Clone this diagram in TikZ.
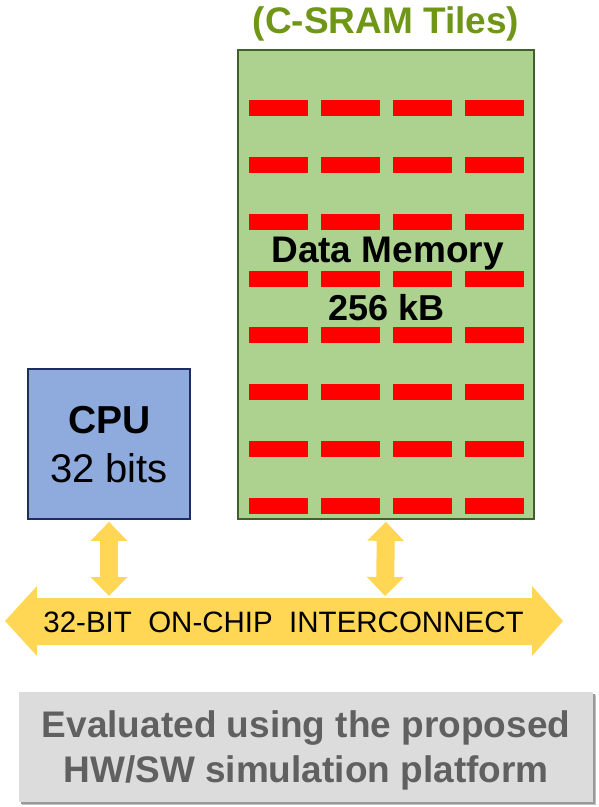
\documentclass[tikz,border=0pt]{standalone}
\usepackage{fontspec}
\setmainfont{Liberation Sans}
\usetikzlibrary{arrows.meta}
\definecolor{memgreen}{RGB}{173,210,143}
\definecolor{memedge}{RGB}{66,96,44}
\definecolor{titlegreen}{RGB}{112,150,24}
\definecolor{tilered}{RGB}{255,0,0}
\definecolor{cpublue}{RGB}{143,170,220}
\definecolor{cpuedge}{RGB}{28,46,100}
\definecolor{busyellow}{RGB}{255,215,85}
\definecolor{notegray}{RGB}{220,220,220}
\definecolor{notetext}{RGB}{96,96,96}

\begin{document}
\begin{tikzpicture}[x=1pt, y=-1pt]
\tikzset{box/.style = {draw, line width=1.8pt, inner sep=0pt}}
    \tikzset{tile/.style = {fill=tilered}}
    \tikzset{link/.style = {draw=busyellow, line width=18pt,
      {Triangle[length=19pt, width=37pt, line width=0pt]}-{Triangle[length=19pt, width=37pt, line width=0pt]}}}
    \tikzset{big/.style = {font=\fontsize{36}{40}\selectfont, inner sep=0pt, anchor=base}}
\useasboundingbox (0,0) rectangle (598,807);

% Memory block with its tiles
\node[titlegreen, big, font=\fontsize{37}{40}\selectfont\bfseries] (title) at (386,33) {(C-SRAM Tiles)};
\node[box, draw=memedge, fill=memgreen, minimum width=296pt, minimum height=469pt] (mem) at (386,284.5) {};
\foreach \row in {0,...,7}
  \foreach \col in {0,...,3}
    \fill[tile] (249+72*\col, 100+56.86*\row) rectangle ++(59,16);
\node[big, font=\fontsize{37}{40}\selectfont\bfseries] (memname) at (387.5,262) {Data Memory};
\node[big, font=\fontsize{36}{40}\selectfont\bfseries] (memsize) at (387,320) {256 kB};

% CPU
\node[box, draw=cpuedge, fill=cpublue, minimum width=162pt, minimum height=150pt] (cpu) at (109,444) {};
\node[big, font=\fontsize{39}{40}\selectfont\bfseries] (cpuname) at (109.5,433) {CPU};
\node[big, font=\fontsize{40}{40}\selectfont] (cpubits) at (109,482) {32 bits};

% Interconnect
\fill[busyellow] (5,621) -- (37,586) -- (37,598) -- (532,598) -- (532,586) -- (563,621)
  -- (532,656) -- (532,645) -- (37,645) -- (37,656) -- cycle;
\node[big, font=\fontsize{29.5}{30}\selectfont] (bus) at (283.5,632) {32-BIT\ \ ON-CHIP\ \ INTERCONNECT};
\coordinate (cpubus) at (109,596);
\coordinate (membus) at (385,596);
\draw[link] ([yshift=-2pt]cpu.south) -- (cpubus);
\draw[link] ([yshift=-2pt]mem.south) -- (membus);

% Note
\fill[black!25] (22,695) rectangle (596,805);
\fill[black!40] (21,694) rectangle (595,804);
\fill[notegray] (19,692) rectangle (593,802);
\node[big, notetext, font=\fontsize{37}{40}\selectfont\bfseries] (note) at (306,737) {Evaluated using the proposed};
\node[big, notetext, font=\fontsize{37}{40}\selectfont\bfseries] (note2) at (306,782) {HW/SW simulation platform};
\end{tikzpicture}
\end{document}
